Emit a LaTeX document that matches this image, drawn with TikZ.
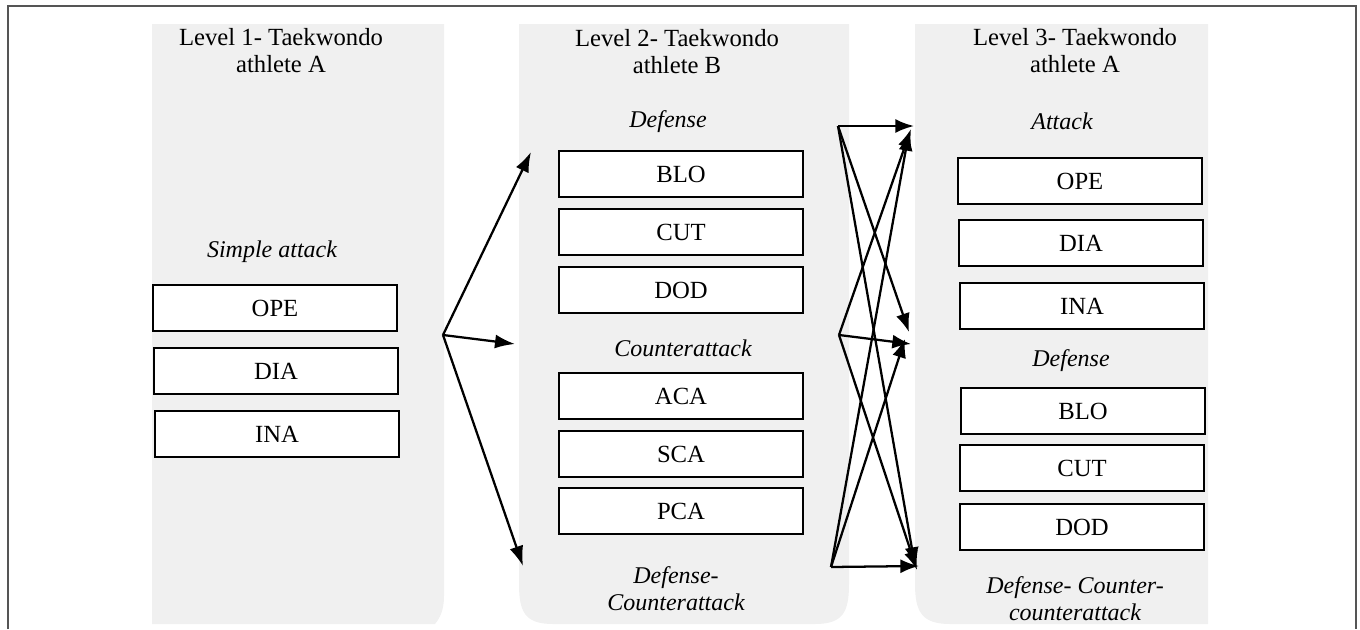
\documentclass[tikz,border=0pt]{standalone}
\usepackage{fontspec}
\setmainfont{Liberation Serif}
\usetikzlibrary{arrows.meta}
\definecolor{panelgray}{HTML}{F0F0F0}
\definecolor{framegray}{HTML}{555555}
\tikzset{
  panel/.style={fill=panelgray,draw=none},
  abox/.style={draw=black,line width=1.7pt,fill=white,minimum width=183pt,minimum height=34.5pt,inner sep=0pt,font=\fontsize{18.5}{21}\selectfont},
  ttl/.style={align=center,inner sep=0pt,font=\fontsize{18.5}{20.3}\selectfont},
  cat/.style={align=center,inner sep=0pt,font=\fontsize{18}{20.3}\selectfont\itshape},
  conn/.style={line width=1.7pt,-{Latex[length=15pt,width=10.5pt]}},
  conn2/.style={line width=1.7pt,-{Latex[length=14pt,width=10.5pt]}}
}
\begin{document}
\begin{tikzpicture}[x=0.75pt,y=-0.75pt]
\useasboundingbox (0,0) rectangle (1360,629);
% frame
\draw[framegray,line width=1.5pt] (8,629) -- (8,6) -- (1356,6) -- (1356,629);
% panels
\fill[panel] (152,24) -- (444,24) -- (444,596) .. controls (444,610) and (440,618) .. (435,624) -- (152,624) -- cycle;
\fill[panel] (519,24) -- (849,24) -- (849,584) .. controls (849,612) and (843,624) .. (815,624) -- (553,624) .. controls (525,624) and (519,612) .. (519,584) -- cycle;
\fill[panel] (915,24) -- (1208,24) -- (1208,624) -- (950,624) .. controls (922,624) and (915,612) .. (915,584) -- cycle;
% titles
\node[ttl] (t1) at (281,51) {Level 1- Taekwondo\\athlete A};
\node[ttl] (t2) at (677,52) {Level 2- Taekwondo\\athlete B};
\node[ttl] (t3) at (1075,51) {Level 3- Taekwondo\\athlete A};
% level 1
\node[cat] (c1) at (272,252) {Simple attack};
\node[abox] (a1) at (275,308) {OPE};
\node[abox] (a2) at (276,371) {DIA};
\node[abox] (a3) at (277,434) {INA};
% level 2
\node[cat] (c2) at (668,122) {Defense};
\node[abox] (b1) at (681,174) {BLO};
\node[abox] (b2) at (681,232) {CUT};
\node[abox] (b3) at (681,290) {DOD};
\node[cat] (c3) at (683,348) {Counterattack};
\node[abox] (b4) at (681,396) {ACA};
\node[abox] (b5) at (681,454) {SCA};
\node[abox] (b6) at (681,511) {PCA};
\node[cat] (c4) at (676,589) {Defense-\\Counterattack};
% level 3
\node[cat] (c5) at (1062,121) {Attack};
\node[abox] (d1) at (1080,181) {OPE};
\node[abox] (d2) at (1081,243) {DIA};
\node[abox] (d3) at (1082,306) {INA};
\node[cat] (c6) at (1071,361) {Defense};
\node[abox] (d4) at (1083,411) {BLO};
\node[abox] (d5) at (1082,468) {CUT};
\node[abox] (d6) at (1082,527) {DOD};
\node[cat] (c7) at (1075,599) {Defense- Counter-\\counterattack};
% arrow coordinates
\coordinate (L0) at (443,335);
\coordinate (LA) at (531,152);
\coordinate (LB) at (515,344);
\coordinate (LC) at (523,566);
\coordinate (S1) at (838,126);
\coordinate (S2) at (839,335);
\coordinate (S3) at (831,567);
\coordinate (T11) at (914,126);
\coordinate (T21) at (911,129);
\coordinate (T31) at (909,132);
\coordinate (T12) at (909,332);
\coordinate (T22) at (911,344);
\coordinate (T32) at (905,339);
\coordinate (T13) at (915,566);
\coordinate (T23) at (917,570);
\coordinate (T33) at (919,566);
% level 1 -> level 2
\draw[conn] (L0) -- (LA);
\draw[conn] (L0) -- (LB);
\draw[conn] (L0) -- (LC);
% level 2 -> level 3
\draw[conn2] (S1) -- (T11);
\draw[conn2] (S1) -- (T12);
\draw[conn2] (S1) -- (T13);
\draw[conn2] (S2) -- (T21);
\draw[conn2] (S2) -- (T22);
\draw[conn2] (S2) -- (T23);
\draw[conn2] (S3) -- (T31);
\draw[conn2] (S3) -- (T32);
\draw[conn2] (S3) -- (T33);
\end{tikzpicture}
\end{document}
